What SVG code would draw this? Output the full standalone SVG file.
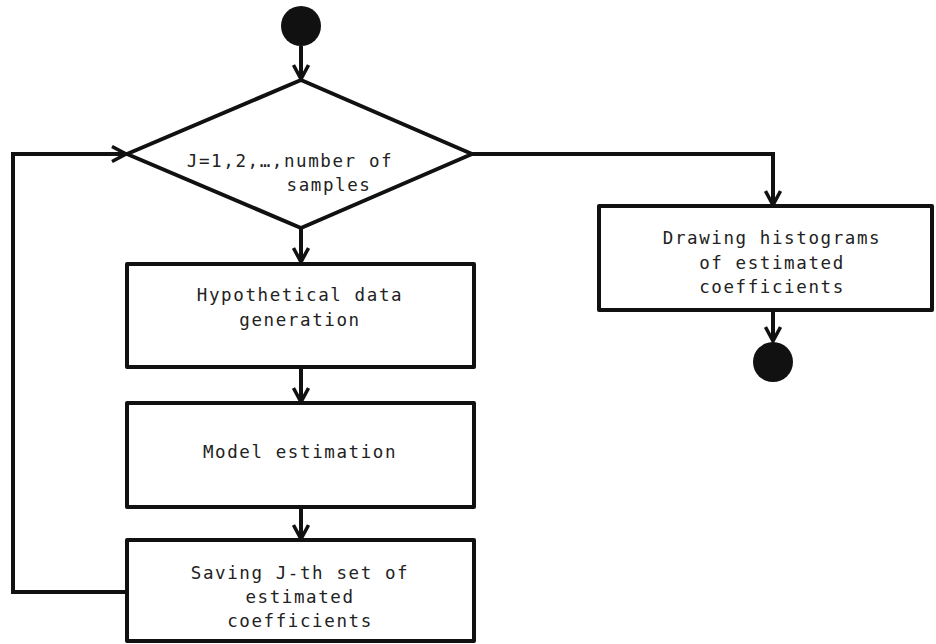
<svg xmlns="http://www.w3.org/2000/svg" width="936" height="644" viewBox="0 0 936 644">
<defs>
<style>
.node{fill:#fff;stroke:#111;stroke-width:4;stroke-linejoin:round}
.term{fill:#111}
.t{font-family:"DejaVu Sans Mono","Liberation Mono",monospace;font-size:17.5px;letter-spacing:1.6px;fill:#222;text-anchor:middle}
.c{fill:none;stroke:#111;stroke-width:4;stroke-linejoin:miter}
</style>
<marker id="ah" viewBox="0 0 18 18" refX="16" refY="9" markerWidth="18" markerHeight="18" markerUnits="userSpaceOnUse" orient="auto">
<path d="M2,1.5 L16,9 L2,16.5" fill="none" stroke="#111" stroke-width="3.5"/>
</marker>
</defs>
<rect width="936" height="644" fill="#fff"/>
<g id="connectors">
<line class="c" x1="301" y1="46" x2="301" y2="79" marker-end="url(#ah)"/>
<line class="c" x1="301" y1="228" x2="301" y2="262" marker-end="url(#ah)"/>
<line class="c" x1="301" y1="367" x2="301" y2="402" marker-end="url(#ah)"/>
<line class="c" x1="301" y1="507" x2="301" y2="539" marker-end="url(#ah)"/>
<polyline class="c" points="127,592 13,592 13,154 126,154" marker-end="url(#ah)"/>
<polyline class="c" points="472,154 773,154 773,205" marker-end="url(#ah)"/>
<line class="c" x1="773" y1="310" x2="773" y2="341" marker-end="url(#ah)"/>
</g>
<g id="start"><circle class="term" cx="301" cy="26" r="20"/></g>
<g id="loop">
<polygon class="node" points="301,80 472,154 301,228 127,154"/>
<text class="t" x="290" y="167">J=1,2,…,number of</text>
<text class="t" x="329" y="191">samples</text>
</g>
<g id="generate">
<rect class="node" x="127" y="264" width="347" height="103"/>
<text class="t" x="300" y="301">Hypothetical data</text>
<text class="t" x="300" y="326">generation</text>
</g>
<g id="estimate">
<rect class="node" x="127" y="403" width="347" height="104"/>
<text class="t" x="300" y="458">Model estimation</text>
</g>
<g id="save">
<rect class="node" x="127" y="540" width="347" height="101"/>
<text class="t" x="300" y="579">Saving J-th set of</text>
<text class="t" x="300" y="603">estimated</text>
<text class="t" x="300" y="627">coefficients</text>
</g>
<g id="histograms">
<rect class="node" x="599" y="206" width="333" height="104"/>
<text class="t" x="772" y="244">Drawing histograms</text>
<text class="t" x="772" y="269">of estimated</text>
<text class="t" x="772" y="293">coefficients</text>
</g>
<g id="end"><circle class="term" cx="773" cy="362" r="20"/></g>
</svg>
